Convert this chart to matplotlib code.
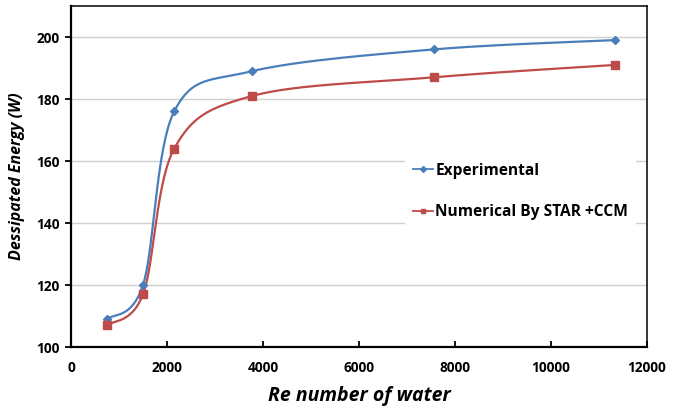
import numpy as np
import matplotlib
matplotlib.use("Agg")
import matplotlib.pyplot as plt

# Re number and dissipated energy
re_water = [750, 1500, 2150, 3780, 7560, 11340]
experimental = [109, 120, 176, 189, 196, 199]
numerical = [107, 117, 164, 181, 187, 191]

xticks = [0, 2000, 4000, 6000, 8000, 10000, 12000]
yticks = [100, 120, 140, 160, 180, 200]

plt.rcParams['font.family'] = ['Open Sans', 'DejaVu Sans']


# Excel-style smoothed line: cubic Bezier through the points (Catmull-Rom tangents)
def smooth(xs, ys, n=40):
    p = np.column_stack([xs, ys]).astype(float)
    out = [p[0]]
    for i in range(len(p) - 1):
        p0 = p[i - 1] if i > 0 else p[i]
        p3 = p[i + 2] if i + 2 < len(p) else p[i + 1]
        c1 = p[i] + (p[i + 1] - p0) / 6
        c2 = p[i + 1] - (p3 - p[i]) / 6
        t = np.linspace(0, 1, n)[1:, None]
        seg = ((1 - t) ** 3) * p[i] + 3 * ((1 - t) ** 2) * t * c1 + 3 * (1 - t) * t ** 2 * c2 + t ** 3 * p[i + 1]
        out.extend(seg)
    out = np.array(out)
    return out[:, 0], out[:, 1]


blue = '#4a7ebb'
red = '#be4b48'

fig = plt.figure(figsize=(6.83, 4.07), dpi=100)
ax = fig.add_axes([71 / 683, 1 - 347 / 407, 576 / 683, 341 / 407])

sx, sy = smooth(re_water, experimental)
ax.plot(sx, sy, color=blue, lw=1.6, zorder=3)
ax.plot(re_water, experimental, ls='none', marker='D', ms=4.5, color=blue, zorder=4)
sx, sy = smooth(re_water, numerical)
ax.plot(sx, sy, color=red, lw=1.6, zorder=3)
ax.plot(re_water, numerical, ls='none', marker='s', ms=5.5, color=red, zorder=4)

# legend proxies
ax.plot([], [], color=blue, lw=1.3, marker='D', ms=3, label='Experimental')
ax.plot([], [], color=red, lw=1.3, marker='s', ms=3.5, label='Numerical By STAR +CCM')

ax.set_xlim(0, 12000)
ax.set_ylim(100, 210)
ax.set_xticks(xticks)
ax.set_yticks(yticks)
ax.tick_params(axis='x', direction='in', length=4, width=1.3, pad=10, labelsize=9.8)
ax.tick_params(axis='y', direction='out', length=4, width=1.3, pad=4, labelsize=9.8)
for lab in ax.get_xticklabels() + ax.get_yticklabels():
    lab.set_fontweight('bold')

ax.grid(axis='y', color='#d0d0d0', lw=1.0, zorder=0)
ax.set_axisbelow(True)
for s in ['left', 'bottom']:
    ax.spines[s].set_linewidth(1.6)
for s in ['top', 'right']:
    ax.spines[s].set_linewidth(1.1)

ax.set_xlabel('Re number of water', fontsize=14, fontweight='bold', fontstyle='italic', labelpad=8)
ax.set_ylabel('Dessipated Energy (W)', fontsize=11.5, fontweight='bold', fontstyle='italic', labelpad=8)

leg = ax.legend(loc='upper left', bbox_to_anchor=(405 / 683, 1 - 155 / 407), bbox_transform=fig.transFigure,
                frameon=True, facecolor='white', edgecolor='none', framealpha=1, fancybox=False,
                borderaxespad=0, borderpad=0.5, handlelength=1.3, handletextpad=0.15, labelspacing=1.65,
                prop={'weight': 'bold', 'size': 11.2})
leg.set_zorder(5)

fig.savefig('out.png', dpi=100)
